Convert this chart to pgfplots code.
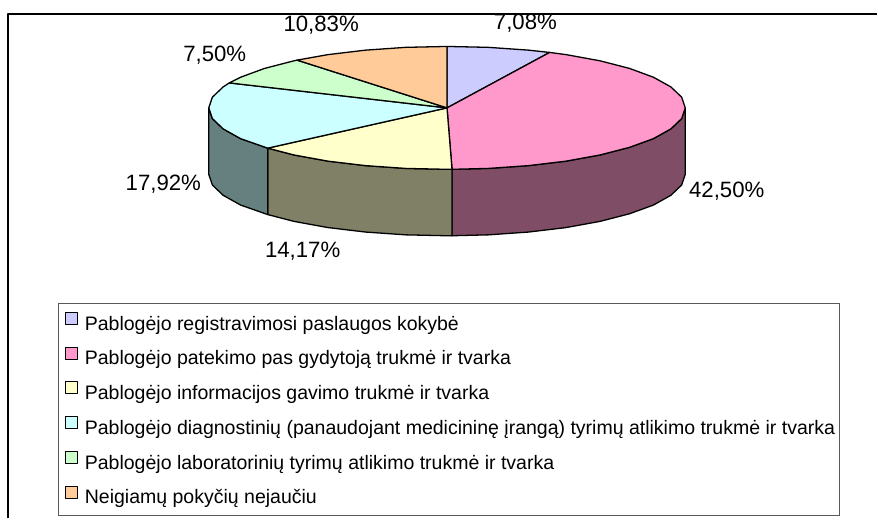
\documentclass[border=0pt]{standalone}
\usepackage{pgfplots}
\pgfplotsset{compat=1.18}
\usepackage{fontspec}
\setmainfont{Liberation Sans}
\definecolor{c1}{HTML}{CCCCFF}
\definecolor{c2}{HTML}{FF99CC}
\definecolor{c3}{HTML}{FFFFCC}
\definecolor{c4}{HTML}{CCFFFF}
\definecolor{c5}{HTML}{CCFFCC}
\definecolor{c6}{HTML}{FFCC99}
\definecolor{w2}{HTML}{804D66}
\definecolor{w3}{HTML}{808066}
\definecolor{w4}{HTML}{668080}
\begin{document}
\begin{tikzpicture}
\begin{axis}[
  scale only axis, width=878bp, height=519bp,
  xmin=0, xmax=878, ymin=0, ymax=519, y dir=reverse,
  hide axis, clip=false,
  legend cell align=left,
  legend image code/.code={\path[draw=none,fill=none] (-6bp,3bp) -- (16bp,3bp);\draw[#1,line width=1bp] (0bp,-1.5bp) rectangle (12bp,10.5bp);},
  legend style={at={(axis cs:58,303.5)},anchor=north west,draw=black!65,line width=0.9bp,
    font=\fontsize{19.6}{21}\selectfont,
    inner xsep=1bp,inner ysep=7.5bp,row sep=11.3bp,
    nodes={inner ysep=0pt,inner xsep=3.5bp,text height=19bp,text depth=4.5bp}},
  every axis plot/.append style={line join=round,line width=1.3bp,draw=black},
]
\path (axis cs:0,0) rectangle (axis cs:878,519);
% frame
\addplot[forget plot,line width=1.9bp,no marks] coordinates {(8,519) (8,14) (878,14)};
% side walls
\addplot[forget plot,fill=w2] coordinates {(686,108) (682.4,118.7) (671.6,129.0) (654.1,138.8) (630.2,147.5) (600.8,155.1) (566.8,161.3) (529.1,165.8) (488.9,168.6) (452.5,169.5)
 (452.5,236) (488.9,235.1) (529.1,232.3) (566.8,227.8) (600.8,221.6) (630.2,214) (654.1,205.3) (671.6,195.5) (682.4,185.2) (686,174.5) (686,108)};
\addplot[forget plot,fill=w3] coordinates {(452.5,169.5) (447.5,169.5) (406.1,168.6) (365.9,165.8) (328.2,161.3) (294.2,155.1) (268,148.3)
 (268,214.8) (294.2,221.6) (328.2,227.8) (365.9,232.3) (406.1,235.1) (447.5,236) (452.5,236) (452.5,169.5)};
\addplot[forget plot,fill=w4] coordinates {(268,148.3) (240.9,138.8) (223.4,129.0) (212.6,118.7) (209,108)
 (209,174.5) (212.6,185.2) (223.4,195.5) (240.9,205.3) (268,214.8) (268,148.3)};
% top slices: 7,08 / 42,50 / 14,17 / 17,92 / 7,50 / 10,83 %
\addplot[fill=c1] coordinates {(447.5,108) (447.5,46.5) (488.9,47.4) (529.1,50.2) (550.2,52.5) (447.5,108)};
\addlegendentry{Pablogėjo registravimosi paslaugos kokybė}
\addplot[fill=c2] coordinates {(447.5,108) (550.2,52.5) (566.8,54.7) (600.8,60.9) (630.2,68.5) (654.1,77.3) (671.6,87.0) (682.4,97.3) (686,108) (682.4,118.7) (671.6,129.0) (654.1,138.8) (630.2,147.5) (600.8,155.1) (566.8,161.3) (529.1,165.8) (488.9,168.6) (452.5,169.5) (447.5,108)};
\addlegendentry{Pablogėjo patekimo pas gydytoją trukmė ir tvarka}
\addplot[fill=c3] coordinates {(447.5,108) (452.5,169.5) (447.5,169.5) (406.1,168.6) (365.9,165.8) (328.2,161.3) (294.2,155.1) (268,148.3) (447.5,108)};
\addlegendentry{Pablogėjo informacijos gavimo trukmė ir tvarka}
\addplot[fill=c4] coordinates {(447.5,108) (268,148.3) (240.9,138.8) (223.4,129.0) (212.6,118.7) (209,108) (212.6,97.3) (223.4,87.0) (229.6,83.0) (447.5,108)};
\addlegendentry{Pablogėjo diagnostinių (panaudojant medicininę įrangą) tyrimų atlikimo trukmė ir tvarka}
\addplot[fill=c5] coordinates {(447.5,108) (229.6,83.0) (240.9,77.3) (264.8,68.5) (294.2,60.9) (297.4,60.2) (447.5,108)};
\addlegendentry{Pablogėjo laboratorinių tyrimų atlikimo trukmė ir tvarka}
\addplot[fill=c6] coordinates {(447.5,108) (297.4,60.2) (328.2,54.7) (365.9,50.2) (406.1,47.4) (447.5,46.5) (447.5,108)};
\addlegendentry{Neigiamų pokyčių nejaučiu}
% labels
\begin{scope}[every node/.style={font=\fontsize{22.3}{24}\selectfont,inner sep=0pt}]
\node at (axis cs:526,23.5) {7,08\%};
\node at (axis cs:727.5,191) {42,50\%};
\node at (axis cs:303,251) {14,17\%};
\node at (axis cs:163.5,184.5) {17,92\%};
\node at (axis cs:215,55) {7,50\%};
\node at (axis cs:321.5,25.5) {10,83\%};
\end{scope}
\end{axis}
\end{tikzpicture}
\end{document}
